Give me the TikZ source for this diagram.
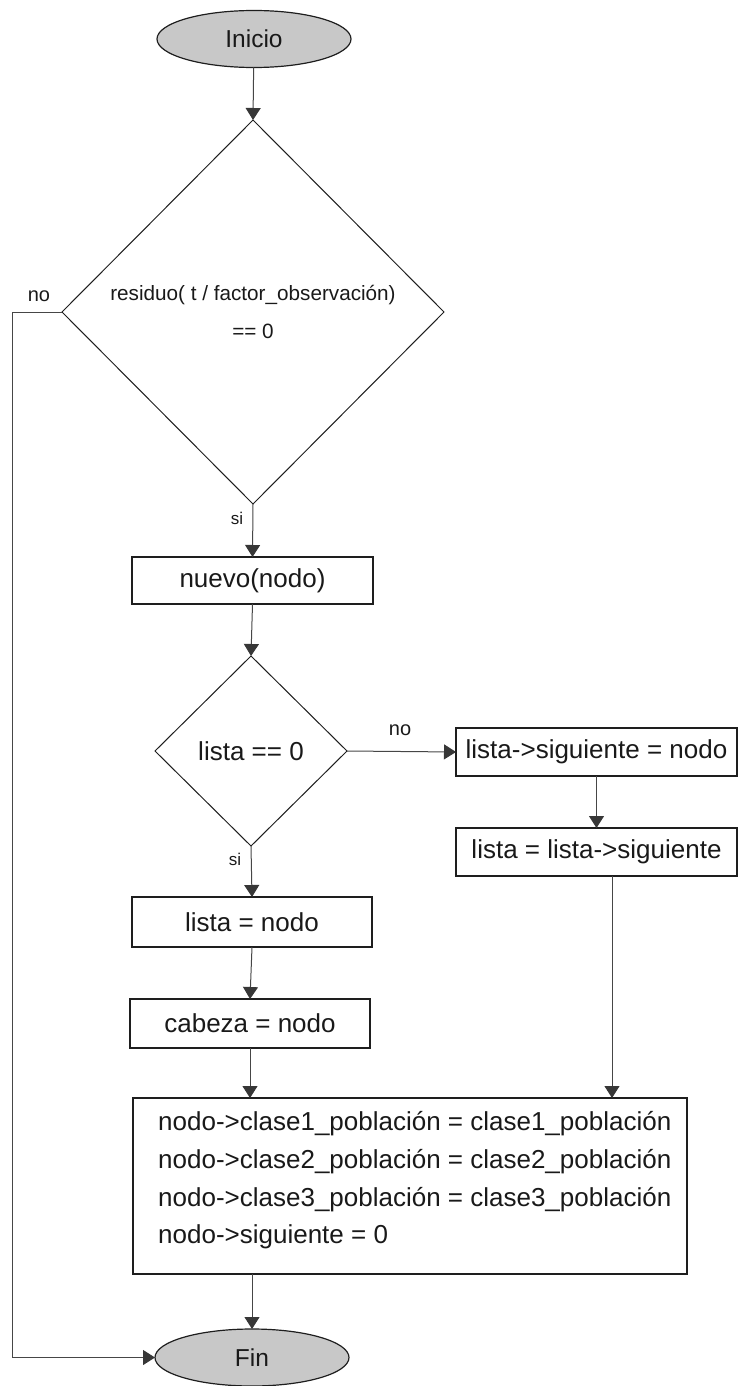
\documentclass[tikz,border=0pt]{standalone}
\usepackage{fontspec}
\setmainfont{Liberation Sans}
\usetikzlibrary{shapes.geometric,arrows.meta}
\definecolor{edgecol}{RGB}{30,30,30}
\definecolor{linecol}{RGB}{70,70,70}
\definecolor{tipcol}{RGB}{55,55,55}
\definecolor{termfill}{RGB}{200,200,200}
\definecolor{txtcol}{RGB}{25,25,25}
\tikzset{
  every node/.style={text=txtcol},
  term/.style={ellipse, draw=edgecol, line width=1.2pt, fill=termfill,
    minimum width=194pt, minimum height=57pt, inner sep=0pt, outer sep=0pt,
    font=\fontsize{24.5}{29}\selectfont},
  proc/.style={rectangle, draw=edgecol, line width=1.3pt, inner sep=0pt,
    outer sep=0pt, font=\fontsize{26}{31}\selectfont},
  decision/.style={diamond, draw=edgecol, line width=1pt, inner sep=0pt,
    outer sep=0pt},
  conn/.style={draw=linecol, line width=1pt,
    -{Triangle[width=15pt,length=12pt,color=tipcol]}},
  plain/.style={draw=linecol, line width=1pt},
  lbl/.style={inner sep=0pt, font=\fontsize{20}{24}\selectfont},
  silbl/.style={inner sep=0pt, font=\fontsize{17}{20}\selectfont},
}
\begin{document}
\begin{tikzpicture}[x=1pt, y=-1pt]
  \useasboundingbox (0,0) rectangle (739,1386);

  % terminals
  \node[term] (inicio) at (254,39) {Inicio};
  \node[term] (fin) at (252,1357.5) {Fin};

  % first decision
  \node[decision, minimum width=382pt, minimum height=384pt, align=center,
        font=\fontsize{20.7}{38}\selectfont] (resto) at (253,312)
        {residuo( t / factor\_observación)\\== 0};

  % creation of the node
  \node[proc, minimum width=241pt, minimum height=47pt] (nuevo) at (252.5,580.5) {nuevo(nodo)};

  % second decision
  \node[decision, minimum width=192pt, minimum height=190pt,
        font=\fontsize{26}{31}\selectfont] (vacia) at (251,751) {lista == 0};

  % branch: list not empty
  \node[proc, minimum width=281pt, minimum height=48pt] (enlace) at (596.5,752) {lista->siguiente = nodo};
  \node[proc, minimum width=281pt, minimum height=48pt] (avance) at (596.5,852) {lista = lista->siguiente};

  % branch: list empty
  \node[proc, minimum width=240pt, minimum height=50pt] (primero) at (252,922) {lista = nodo};
  \node[proc, minimum width=240pt, minimum height=49pt] (cabeza) at (250,1023.5) {cabeza = nodo};

  % filling of the node
  \node[proc, minimum width=554pt, minimum height=176pt] (datos) at (410,1186) {};
  \node[anchor=west, align=left, inner sep=0pt, font=\fontsize{26}{37.7}\selectfont]
        (datostxt) at (158,1180.5)
        {nodo->clase1\_población = clase1\_población\\
         nodo->clase2\_población = clase2\_población\\
         nodo->clase3\_población = clase3\_población\\
         nodo->siguiente = 0};

  % helper points
  \coordinate (izq) at (12,312);
  \coordinate (der) at (612,0);

  % connectors
  \draw[conn] (inicio) -- (resto.north);
  \draw[conn] (resto.south) -- (nuevo.north);
  \draw[conn] (nuevo.south) -- (vacia.north);
  \draw[conn] (vacia.east) -- (enlace.west);
  \draw[conn] (enlace.south) -- (avance.north);
  \draw[conn] (vacia.south) -- (primero.north);
  \draw[conn] (primero.south) -- (cabeza.north);
  \draw[conn] (cabeza.south) -- (cabeza.south |- datos.north);
  \draw[conn] (avance.south -| der) -- (datos.north -| der);
  \draw[conn] (datos.south -| fin) -- (fin.north);
  \draw[conn] (resto.west) -- (izq) |- (fin.west);

  % branch labels
  \node[lbl] (noA) at (39,296) {no};
  \node[silbl] (siA) at (237,518) {si};
  \node[lbl] (noB) at (400,730) {no};
  \node[silbl] (siB) at (235,859) {si};
\end{tikzpicture}
\end{document}
